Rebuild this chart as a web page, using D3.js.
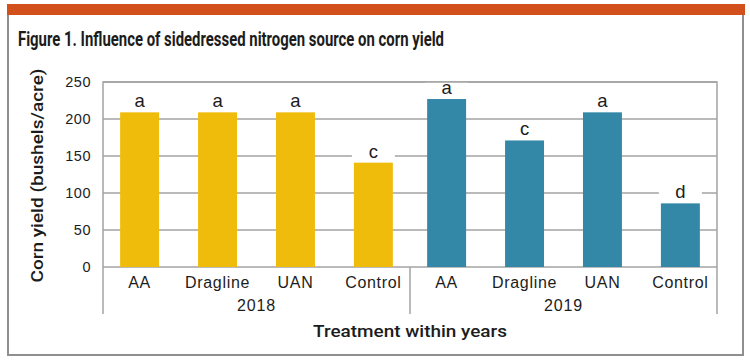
<!DOCTYPE html>
<html>
<head>
<meta charset="utf-8">
<script src="https://cdn.jsdelivr.net/npm/d3@7"></script>
<style>
  body { margin: 0; background: #fff; }
  svg { display: block; }
</style>
</head>
<body>
<svg id="chart"></svg>
<script>
const width = 750
const height = 361
const margin = { top: 82, right: 34, bottom: 94, left: 103 }

// data
const years = ['2018', '2019']
const treatments = ['AA', 'Dragline', 'UAN', 'Control']
const yield2018 = [209, 209, 209, 141]
const yield2019 = [227, 171, 209, 86]
const letters2018 = ['a', 'a', 'a', 'c']
const letters2019 = ['a', 'c', 'a', 'd']
const yTicks = [0, 50, 100, 150, 200, 250]

const colors = { 2018: '#f0bc0c', 2019: '#3388a8' }
const gridColor = '#a3a3a3'
const textColor = '#1c1c1c'

const rows = []
years.forEach((yr, j) => {
  const vals = j === 0 ? yield2018 : yield2019
  const lets = j === 0 ? letters2018 : letters2019
  treatments.forEach((t, i) => {
    rows.push({ year: yr, treatment: t, value: vals[i], letter: lets[i] })
  })
})

const svg = d3.select('#chart')
  .attr('width', width)
  .attr('height', height)

// frame and orange header strip
svg.append('rect')
  .attr('x', 8).attr('y', 14)
  .attr('width', 735).attr('height', 341)
  .attr('fill', '#fff')
  .attr('stroke', '#8f8f8f')
  .attr('stroke-width', 2)

svg.append('rect')
  .attr('x', 7).attr('y', 4)
  .attr('width', 738).attr('height', 11)
  .attr('fill', '#d1501c')

svg.append('text')
  .attr('x', 18).attr('y', 46)
  .attr('font-family', 'Roboto')
  .attr('font-weight', 700)
  .attr('font-size', '20.5px')
  .attr('fill', textColor)
  .attr('textLength', 426)
  .attr('lengthAdjust', 'spacingAndGlyphs')
  .text('Figure 1. Influence of sidedressed nitrogen source on corn yield')

const x0 = d3.scaleBand()
  .domain(years)
  .range([margin.left, width - margin.right + 1])

const x1 = d3.scaleBand()
  .domain(treatments)
  .range([0, x0.bandwidth()])
  .paddingInner(0.5)
  .paddingOuter(0.22)

const y = d3.scaleLinear()
  .domain([0, 250])
  .range([height - margin.bottom, margin.top])

const plotL = x0.range()[0]
const plotR = x0.range()[1]

// gridlines
svg.append('g')
  .selectAll('line')
  .data(yTicks)
  .join('line')
  .attr('x1', plotL).attr('x2', plotR)
  .attr('y1', d => y(d)).attr('y2', d => y(d))
  .attr('stroke', gridColor)
  .attr('stroke-width', 1.5)

// y tick labels
svg.append('g')
  .selectAll('text')
  .data(yTicks)
  .join('text')
  .attr('x', plotL - 12)
  .attr('y', d => y(d))
  .attr('dy', '0.36em')
  .attr('text-anchor', 'end')
  .attr('font-family', 'Liberation Sans')
  .attr('font-size', '14.5px')
  .attr('letter-spacing', '0.5px')
  .attr('fill', textColor)
  .text(d => d)

// bars
const bars = svg.append('g')
  .selectAll('g')
  .data(rows)
  .join('g')
  .attr('transform', d => `translate(${x0(d.year) + x1(d.treatment)},0)`)

bars.append('rect')
  .attr('x', 0)
  .attr('y', d => y(d.value))
  .attr('width', x1.bandwidth())
  .attr('height', d => y(0) - y(d.value))
  .attr('fill', d => colors[d.year])

// white box behind significance letters (breaks the gridlines)
bars.append('rect')
  .attr('x', -2)
  .attr('y', d => y(d.value) - 17)
  .attr('width', x1.bandwidth() + 4)
  .attr('height', 15)
  .attr('fill', '#fff')

bars.append('text')
  .attr('x', x1.bandwidth() / 2)
  .attr('y', d => y(d.value) - 5)
  .attr('text-anchor', 'middle')
  .attr('font-family', 'Liberation Sans')
  .attr('font-size', '18.5px')
  .attr('fill', textColor)
  .text(d => d.letter)

// plot border (left, top, right) and x axis line
svg.append('path')
  .attr('d', `M${plotL},${y(0)}V${y(250)}H${plotR}V${y(0)}`)
  .attr('fill', 'none')
  .attr('stroke', gridColor)
  .attr('stroke-width', 1.5)

// group separators below the axis
svg.append('g')
  .selectAll('line')
  .data([plotL, x0('2019'), plotR])
  .join('line')
  .attr('x1', d => d).attr('x2', d => d)
  .attr('y1', y(0)).attr('y2', 314)
  .attr('stroke', gridColor)
  .attr('stroke-width', 1.5)

// category labels
svg.append('g')
  .selectAll('text')
  .data(rows)
  .join('text')
  .attr('x', d => x0(d.year) + x1(d.treatment) + x1.bandwidth() / 2)
  .attr('y', 288)
  .attr('text-anchor', 'middle')
  .attr('font-family', 'Liberation Sans')
  .attr('font-size', '16px')
  .attr('letter-spacing', '0.7px')
  .attr('fill', textColor)
  .text(d => d.treatment)

// year labels
svg.append('g')
  .selectAll('text')
  .data(years)
  .join('text')
  .attr('x', d => x0(d) + x0.bandwidth() / 2)
  .attr('y', 311)
  .attr('text-anchor', 'middle')
  .attr('font-family', 'Liberation Sans')
  .attr('font-size', '16px')
  .attr('letter-spacing', '0.8px')
  .attr('fill', textColor)
  .text(d => d)

// axis titles
svg.append('text')
  .attr('x', (plotL + plotR) / 2)
  .attr('y', 337)
  .attr('text-anchor', 'middle')
  .attr('font-family', 'Roboto')
  .attr('font-weight', 500)
  .attr('font-size', '17px')
  .attr('fill', textColor)
  .attr('textLength', 194)
  .attr('lengthAdjust', 'spacingAndGlyphs')
  .text('Treatment within years')

svg.append('text')
  .attr('transform', `translate(43,${(y(0) + y(250)) / 2 + 1}) rotate(-90)`)
  .attr('text-anchor', 'middle')
  .attr('font-family', 'Roboto')
  .attr('font-weight', 500)
  .attr('font-size', '17px')
  .attr('fill', textColor)
  .attr('textLength', 214)
  .attr('lengthAdjust', 'spacingAndGlyphs')
  .text('Corn yield (bushels/acre)')
</script>
</body>
</html>
